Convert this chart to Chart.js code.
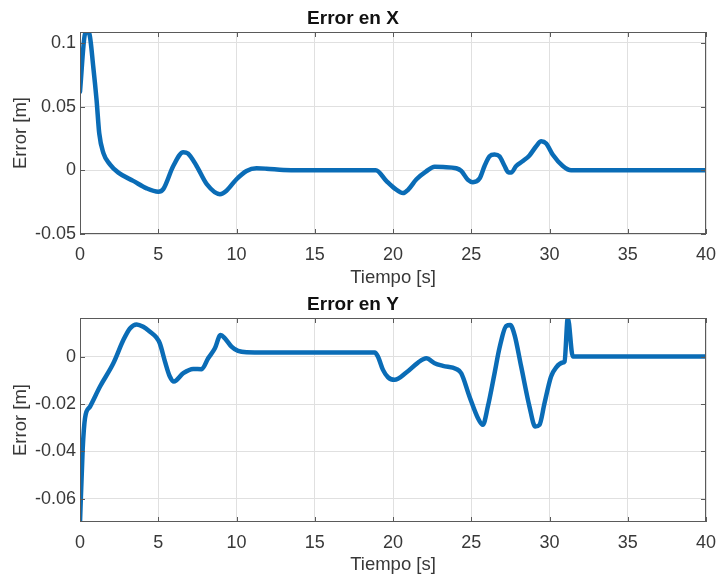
<!DOCTYPE html>
<html>
<head>
<meta charset="utf-8">
<script src="https://cdn.jsdelivr.net/npm/chart.js@4.4.1/dist/chart.umd.min.js"></script>
<style>
  html, body { margin: 0; padding: 0; background: #fff; }
  .box { position: absolute; left: 0; width: 717px; height: 290px; }
</style>
</head>
<body>
<div class="box" style="top:0"><canvas id="chartX"></canvas></div>
<div class="box" style="top:290px"><canvas id="chartY"></canvas></div>
<script>
// tiempo [s] y error [m]
const tX = [0, 0.32, 0.47, 0.6, 0.85, 1.06, 1.23, 1.49, 1.91, 2.45, 3.4, 4.26, 5, 5.32, 5.96, 6.6, 6.9, 7.45, 8.1, 8.94, 9.36, 10, 10.64, 11.28, 11.9, 13, 14, 16, 18.9,
            19.57, 20.1, 20.64, 20.96, 21.5, 22.1, 22.66, 23.2, 24.04, 24.36, 24.79, 25.1, 25.53, 25.85, 26.17, 26.49, 26.8, 27.13, 27.34, 27.55, 27.87, 28.3, 28.72, 29.15, 29.47, 29.79, 30.2, 30.85, 31.38, 35, 40];
const errX = [0.0617, 0.107, 0.1086, 0.107, 0.081, 0.055, 0.029, 0.0137, 0.0047, -0.0018, -0.0083, -0.0142, -0.0168, -0.0148, 0.0034, 0.0142, 0.0132, 0.0034, -0.0109, -0.0187, -0.016, -0.007, -0.0005, 0.0016, 0.0013, 0.0003, 0, 0, 0,
              -0.0083, -0.0142, -0.0179, -0.0153, -0.007, -0.001, 0.0028, 0.0026, 0.0016, -0.0005, -0.0075, -0.0093, -0.0065, 0.0034, 0.011, 0.0124, 0.011, 0.0034, -0.0013, -0.0018, 0.0034, 0.0073, 0.0117, 0.0189, 0.0228, 0.021, 0.0124, 0.0034, 0, 0, 0];

const tY = [0, 0.17, 0.32, 0.64, 1.28, 2.13, 2.77, 3.19, 3.62, 4.04, 4.47, 4.89, 5.1, 5.43, 5.74, 6, 6.6, 7.23, 7.77, 8.19, 8.62, 8.98, 9.26, 9.68, 10.1, 10.64, 11.9, 15, 18.83,
            19.04, 19.36, 19.68, 20.1, 20.85, 21.6, 22.13, 22.66, 23.19, 24.04, 24.36, 24.89, 25.43, 25.74, 26.06, 26.49, 26.8, 27.23, 27.49, 27.77, 28.19, 28.72, 29.09, 29.36, 29.68, 30.1, 30.43, 30.85, 30.96, 31.17, 31.49, 35, 40];
const errY = [-0.07, -0.0393, -0.026, -0.0211, -0.0126, -0.0028, 0.007, 0.0119, 0.0136, 0.0126, 0.0105, 0.008, 0.0056, -0.0021, -0.0084, -0.0105, -0.007, -0.0052, -0.0053, -0.0007, 0.0035, 0.0091, 0.0077, 0.0042, 0.0024, 0.0018, 0.0017, 0.0017, 0.0017,
              0, -0.0056, -0.0087, -0.0098, -0.0067, -0.0025, -0.0007, -0.0028, -0.0039, -0.0052, -0.007, -0.0169, -0.026, -0.0288, -0.0211, -0.007, 0.0035, 0.0129, 0.0133, 0.0091, -0.0042, -0.0211, -0.0295, -0.0288, -0.0197, -0.0084, -0.0045, -0.0025, -0.0021, 0.0163, 0, 0, 0];

const xTicks = [0, 5, 10, 15, 20, 25, 30, 35, 40];
const yTicksX = [-0.05, 0, 0.05, 0.1];
const yTicksY = [-0.06, -0.04, -0.02, 0];

const FONT = "'Liberation Sans', Arial, sans-serif";
const TXT = '#383838';

// caja de ejes con marcas hacia dentro (estilo MATLAB)
const boxPlugin = {
  id: 'matlabBox',
  afterDraw(chart) {
    const {ctx, chartArea: a, scales} = chart;
    ctx.save();
    ctx.strokeStyle = '#5a5a5a';
    ctx.lineWidth = 1;
    ctx.strokeRect(a.left + 0.5, a.top + 0.5, a.right - a.left - 1, a.bottom - a.top - 1);
    ctx.beginPath();
    scales.x.ticks.forEach(t => {
      const px = Math.round(scales.x.getPixelForValue(t.value)) + 0.5;
      ctx.moveTo(px, a.bottom); ctx.lineTo(px, a.bottom - 5);
      ctx.moveTo(px, a.top); ctx.lineTo(px, a.top + 5);
    });
    scales.y.ticks.forEach(t => {
      const py = Math.round(scales.y.getPixelForValue(t.value)) + 0.5;
      ctx.moveTo(a.left, py); ctx.lineTo(a.left + 5, py);
      ctx.moveTo(a.right, py); ctx.lineTo(a.right - 5, py);
    });
    ctx.stroke();
    ctx.restore();
  }
};

function makeChart(canvasId, t, vals, title, yMin, yMax, yTicks, lay) {
  const ctx = document.getElementById(canvasId);
  new Chart(ctx, {
    type: 'line',
    data: {
      datasets: [{
        data: t.map((x, i) => ({x: x, y: vals[i]})),
        borderColor: '#0a6cb6',
        borderWidth: 4.5,
        pointRadius: 0,
        cubicInterpolationMode: 'monotone',
        borderCapStyle: 'round',
        borderJoinStyle: 'round'
      }]
    },
    options: {
      responsive: true,
      maintainAspectRatio: false,
      animation: false,
      layout: { padding: { left: 0, right: 11, top: 0, bottom: 0 } },
      plugins: {
        legend: { display: false },
        tooltip: { enabled: false },
        title: {
          display: true,
          text: title,
          color: '#111',
          font: { family: FONT, size: 19, weight: 'bold' },
          padding: { top: lay.titleTop, bottom: lay.titleBottom }
        }
      },
      scales: {
        x: {
          type: 'linear',
          min: 0,
          max: 40,
          afterBuildTicks: s => { s.ticks = xTicks.map(v => ({value: v})); },
          afterFit: s => { s.height = lay.xHeight; s.paddingLeft = 0; s.paddingRight = 0; },
          grid: { color: '#e0e0e0', drawTicks: false },
          border: { display: false },
          ticks: { color: TXT, padding: 10, font: { family: FONT, size: 18 }, maxRotation: 0 },
          title: {
            display: true,
            text: 'Tiempo [s]',
            color: TXT,
            font: { family: FONT, size: 18.5 },
            padding: { top: 0, bottom: lay.xTitleBottom }
          }
        },
        y: {
          min: yMin,
          max: yMax,
          afterBuildTicks: s => { s.ticks = yTicks.map(v => ({value: v})); },
          afterFit: s => { s.width = 80; },
          grid: { color: '#e0e0e0', drawTicks: false },
          border: { display: false },
          ticks: {
            color: TXT, padding: 4, font: { family: FONT, size: 18 },
            callback: v => String(+Number(v).toFixed(4))
          },
          title: {
            display: true,
            text: 'Error [m]',
            color: TXT,
            font: { family: FONT, size: 18.5 },
            padding: { top: 9.5, bottom: 0 }
          }
        }
      }
    },
    plugins: [boxPlugin]
  });
}

makeChart('chartX', tX, errX, 'Error en X', -0.05, 0.1086, yTicksX,
  { titleTop: 7.8, titleBottom: 1.4, xHeight: 56, xTitleBottom: 1.4 });
makeChart('chartY', tY, errY, 'Error en Y', -0.0698, 0.0163, yTicksY,
  { titleTop: 3.8, titleBottom: 1.4, xHeight: 58, xTitleBottom: 3.9 });
</script>
</body>
</html>
